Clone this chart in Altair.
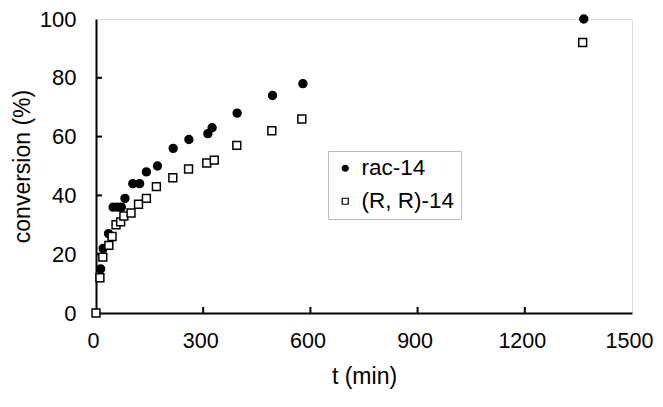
import altair as alt
import pandas as pd

rac_t = [13, 20, 35, 48, 60, 71, 81, 103, 122, 141, 172, 216, 260, 313, 325, 395, 494, 579, 1365]
rac_c = [15, 22, 27, 36, 36, 36, 39, 44, 44, 48, 50, 56, 59, 61, 63, 68, 74, 78, 100]
rr_t = [0, 11, 19, 36, 45, 56, 69, 78, 98, 119, 141, 169, 215, 259, 310, 331, 394, 492, 576, 1362]
rr_c = [0, 12, 19, 23, 26, 30, 31, 33, 34, 37, 39, 43, 46, 49, 51, 52, 57, 62, 66, 92]
series = ["rac-14", "(R, R)-14"]
x_ticks = [0, 300, 600, 900, 1200, 1500]
y_ticks = [0, 20, 40, 60, 80, 100]

df = pd.DataFrame(
    {"t": rac_t + rr_t, "c": rac_c + rr_c,
     "s": [series[0]] * len(rac_t) + [series[1]] * len(rr_t)}
)
xt = pd.DataFrame({"v": x_ticks[1:-1]})
yt = pd.DataFrame({"v": y_ticks[1:-1]})

FONT = "Liberation Sans"
xs = alt.Scale(domain=[0, 1500], nice=False)
ys = alt.Scale(domain=[0, 100], nice=False)

leg = alt.Legend(title=None, orient="none", legendX=232, legendY=132,
                 labelFont=FONT, labelFontSize=22.5, labelColor="black",
                 symbolSize=36, symbolStrokeWidth=1.2,
                 strokeColor="#bbbbbb", padding=6, rowPadding=10,
                 labelOffset=5, symbolOffset=0)

points = alt.Chart(df).mark_point(opacity=1, strokeWidth=1.5, size=62).encode(
    x=alt.X("t:Q", scale=xs, title="t (min)",
            axis=alt.Axis(values=x_ticks, format="d", ticks=False, grid=False, labelFlush=False,
                          domainColor="black", domainWidth=2, labelOffset=-3,
                          labelFont=FONT, labelFontSize=21.5, labelColor="black", labelPadding=17,
                          titleFont=FONT, titleFontSize=23, titleColor="black", titleFontWeight="normal",
                          titlePadding=14)),
    y=alt.Y("c:Q", scale=ys, title="conversion (%)",
            axis=alt.Axis(values=y_ticks, ticks=False, grid=False, labelFlush=False,
                          domainColor="black", domainWidth=2,
                          labelFont=FONT, labelFontSize=22, labelColor="black", labelPadding=20,
                          titleFont=FONT, titleFontSize=23, titleColor="black", titleFontWeight="normal",
                          titlePadding=5)),
    shape=alt.Shape("s:N", scale=alt.Scale(domain=series, range=["circle", "square"]), legend=leg),
    fill=alt.Fill("s:N", scale=alt.Scale(domain=series, range=["black", "white"]), legend=leg),
    stroke=alt.Stroke("s:N", scale=alt.Scale(domain=series, range=["black", "black"]), legend=leg),
)

xtick = alt.Chart(xt).mark_rule(color="black", strokeWidth=2).encode(
    x=alt.X("v:Q", scale=xs), y=alt.value(294), y2=alt.value(288)
)
ytick = alt.Chart(yt).mark_rule(color="black", strokeWidth=2).encode(
    y=alt.Y("v:Q", scale=ys), x=alt.value(0), x2=alt.value(6)
)

chart = alt.layer(xtick, ytick, points).properties(
    width=536, height=294,
    autosize=alt.AutoSizeParams(type="none"),
    padding={"left": 88, "top": 11, "right": 23, "bottom": 85},
).configure_view(stroke="black", strokeWidth=2).configure(background="white")

chart.save("out.html", embed_options={"renderer": "svg", "actions": False})
